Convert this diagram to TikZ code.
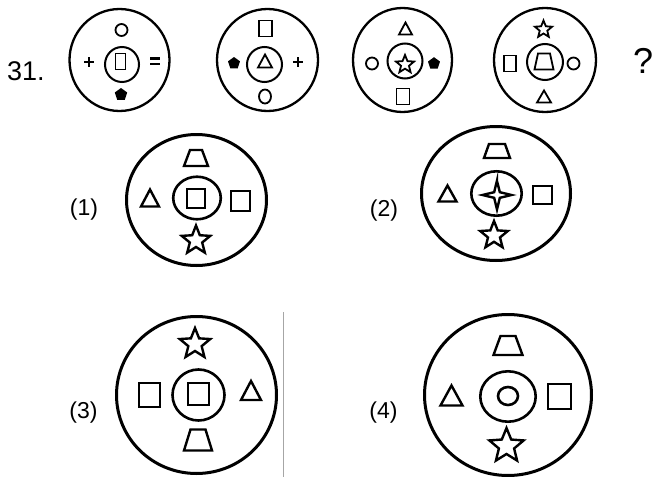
\documentclass[tikz,border=0pt]{standalone}
\usepackage{fontspec}
\setmainfont{Liberation Sans}
\tikzset{
  outerA/.style={line width=2.3pt},
  innerA/.style={line width=2pt},
  shpA/.style={line width=1.8pt},
  outerB/.style={line width=3pt},
  innerB/.style={line width=2.6pt},
  shpB/.style={line width=2.4pt},
  lbl/.style={font=\fontsize{23}{23}\selectfont, inner sep=0pt},
}
\newcommand\Sq[5]{\draw[#1] ({#2-#4/2},{#3-#5/2}) rectangle ({#2+#4/2},{#3+#5/2});}
\newcommand\Tri[5]{\draw[#1,line join=miter] ({#2-#4/2},{#3+#5/2}) -- ({#2+#4/2},{#3+#5/2}) -- (#2,{#3-#5/2}) -- cycle;}
\newcommand\Trap[6]{\draw[#1] ({#2-#4/2},{#3+#6/2}) -- ({#2+#4/2},{#3+#6/2}) -- ({#2+#5/2},{#3-#6/2}) -- ({#2-#5/2},{#3-#6/2}) -- cycle;}
\newcommand\Ell[5]{\draw[#1] (#2,#3) ellipse [x radius=#4pt, y radius=#5pt];}
\newcommand\StarF[5]{\draw[#1,shift={(#2,#3)}] (-90:#4) \foreach \k in {0,...,4}{ -- ({-54+72*\k}:#5) -- ({-18+72*\k}:#4)} -- cycle;}
\newcommand\Pent[3]{\fill[shift={(#1,#2)}] (-90:#3) -- (-18:#3) -- (54:#3) -- (126:#3) -- (198:#3) -- cycle;}
\newcommand\Plus[3]{\draw[line width=2.8pt] ({#1-#3},#2) -- ({#1+#3},#2) (#1,{#2-#3}) -- (#1,{#2+#3});}
\begin{document}
\begin{tikzpicture}[x=1pt,y=-1pt]
\useasboundingbox (0,0) rectangle (654,477);
\fill[white] (0,0) rectangle (654,477);
% labels
\node[anchor=base west, inner sep=0pt, font=\fontsize{27}{27}\selectfont] (num) at (7,80) {31.};
\node[anchor=base west, inner sep=0pt, font=\fontsize{36}{36}\selectfont] (qm) at (633,73) {?};
\node[lbl] (l1) at (84,209.5) {(1)};
\node[lbl] (l2) at (384,211) {(2)};
\node[lbl] (l3) at (83.5,413) {(3)};
\node[lbl] (l4) at (383.5,413) {(4)};
% ---- top row, figure 1
\Ell{outerA}{119.5}{60}{50}{51}
\Ell{innerA}{122}{64.5}{17}{17.5}
\Ell{shpA}{121.5}{30}{6}{6}
\Plus{89}{62}{5}
\Sq{shpA}{120.5}{61.5}{10}{16}
\draw[line width=2.6pt] (150,58.5) -- (160,58.5) (150,63.8) -- (160,63.8);
\Pent{121}{94.5}{6.5}
% ---- figure 2
\Ell{outerA}{267.5}{60}{50.5}{51}
\Ell{innerA}{264.5}{64.5}{17.5}{17.5}
\Sq{shpA}{265.5}{28.5}{13}{16}
\Pent{234}{63.3}{6.3}
\Tri{shpA}{265}{61}{14}{13}
\Plus{298}{62}{5}
\Ell{shpA}{265}{96.5}{6}{7}
% ---- figure 3
\Ell{outerA}{402.5}{60}{49.5}{52}
\Ell{innerA}{405}{61}{17.5}{17.5}
\Tri{shpA}{405.5}{28.5}{13}{12}
\Ell{shpA}{372}{63.5}{6}{6}
\StarF{shpA}{405}{64.5}{9.5}{4.2}
\Pent{434}{63.5}{6.3}
\Sq{shpA}{403}{96.5}{13}{16}
% ---- figure 4
\Ell{outerA}{545}{60}{51}{52}
\Ell{innerA}{545}{62}{18}{18}
\StarF{shpA}{543.5}{29.5}{9}{4}
\Sq{shpA}{510}{63.5}{12}{16}
\Trap{shpA}{544}{61.5}{19}{12}{16}
\Ell{shpA}{573.5}{63.5}{6}{6}
\Tri{shpA}{544}{96.5}{14}{12}
% ---- option 1
\Ell{outerB}{196.5}{200}{70}{65.5}
\Ell{innerB}{197}{198}{23.8}{21.3}
\Trap{shpB}{196}{158}{24}{12}{16}
\Tri{shpB}{150}{198}{18}{17}
\Sq{shpB}{196}{198.5}{18}{19}
\Sq{shpB}{240.5}{201}{19}{20}
\StarF{shpB}{196}{240.5}{15}{6.5}
% ---- option 2
\Ell{outerB}{496}{193.5}{74.5}{67}
\Ell{innerB}{496.5}{193.5}{25.2}{22.2}
\Trap{shpB}{497}{151}{26}{16}{14}
\Tri{shpB}{447.5}{193.5}{18}{16}
\draw[shpB,shift={(497,195)}] (-90:14) \foreach \k in {0,...,3}{ -- ({-45+90*\k}:4) -- ({90*\k}:14.5)} -- cycle;
\Sq{shpB}{542.5}{195}{19}{18}
\StarF{shpB}{494}{235.5}{14.5}{6.3}
% ---- option 3
\Ell{outerB}{196.5}{395}{80}{78.5}
\Ell{innerB}{198.5}{395}{26}{25.5}
\StarF{shpB}{195}{344}{16}{7}
\Sq{shpB}{198.7}{394}{21}{22}
\Sq{shpB}{149.7}{395}{21}{24}
\Tri{shpB}{251}{390.5}{20}{19}
\Trap{shpB}{198}{440}{28}{15}{21}
% ---- option 4
\Ell{outerB}{508}{395}{83.5}{80.5}
\Ell{innerB}{508}{396.5}{27.7}{25.2}
\Ell{innerB}{508}{396}{10}{9}
\Trap{shpB}{508}{345.5}{29}{15}{19}
\Tri{shpB}{451.5}{395.5}{22}{20}
\Sq{shpB}{559.5}{396.5}{23}{25}
\StarF{shpB}{506.5}{446}{18}{8}
% scan line
\draw[black!35, line width=0.8pt] (283,312) -- (283,477);
\end{tikzpicture}
\end{document}
